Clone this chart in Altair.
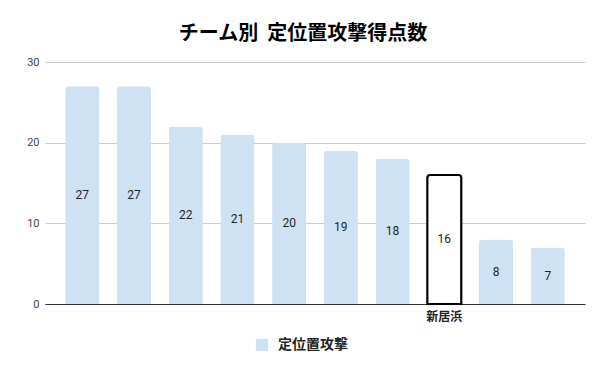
import altair as alt
import pandas as pd

teams = ["T1", "T2", "T3", "T4", "T5", "T6", "T7", "新居浜", "T9", "T10"]
values = [27, 27, 22, 21, 20, 19, 18, 16, 8, 7]
series_name = "定位置攻撃"
highlight = "新居浜"

df = pd.DataFrame({"team": teams, "value": values, "series": [series_name] * len(teams)})

FONT = "Roboto"
JP = "Noto Sans CJK JP"

x_enc = alt.X(
    "team:N",
    sort=teams,
    title=None,
    scale=alt.Scale(paddingInner=0.34, paddingOuter=0.39),
    axis=alt.Axis(
        labelExpr=f"datum.value == '{highlight}' ? datum.value : ''",
        labelAngle=0,
        labelFont=JP,
        labelFontWeight="bold",
        labelFontSize=12,
        labelColor="#222222",
        labelPadding=7,
        ticks=False,
        domainColor="#333333",
        domainWidth=1,
        grid=False,
    ),
)

y_enc = alt.Y(
    "value:Q",
    title=None,
    scale=alt.Scale(domain=[0, 30]),
    axis=alt.Axis(
        values=[0, 10, 20, 30],
        labelFont=FONT,
        labelFontSize=11,
        labelColor="#444444",
        labelPadding=6,
        ticks=False,
        domain=False,
        gridColor="#cccccc",
        gridWidth=1,
    ),
)

bars = alt.Chart(df).mark_bar(cornerRadiusTopLeft=3, cornerRadiusTopRight=3).encode(
    x=x_enc,
    y=y_enc,
    fill=alt.condition(
        alt.datum.team == highlight,
        alt.value("white"),
        alt.Fill(
            "series:N",
            scale=alt.Scale(domain=[series_name], range=["#cfe2f3"]),
            legend=alt.Legend(
                title=None,
                orient="none",
                legendX=210,
                legendY=276,
                symbolType="square",
                symbolSize=150,
                symbolStrokeWidth=0,
                labelFont=JP,
                labelFontWeight="bold",
                labelFontSize=14,
                labelColor="#222222",
                labelOffset=9,
            ),
        ),
    ),
    stroke=alt.condition(alt.datum.team == highlight, alt.value("black"), alt.value(None)),
    strokeWidth=alt.condition(alt.datum.team == highlight, alt.value(2), alt.value(0)),
)

labels = alt.Chart(df).transform_calculate(mid="datum.value / 2").mark_text(
    font=FONT, fontSize=12, color="#222222", baseline="middle"
).encode(
    x=alt.X("team:N", sort=teams),
    y=alt.Y("mid:Q"),
    text="value:Q",
)

chart = (
    alt.layer(bars, labels)
    .properties(
        width=540,
        height=242,
        autosize=alt.AutoSizeParams(type="none"),
        padding={"left": 37, "top": 54, "right": 7, "bottom": 67},
        title=alt.Title(
            "チーム別\u00a0\u00a0定位置攻撃得点数",
            font=JP,
            fontSize=20,
            fontWeight="bold",
            color="#000000",
            anchor="middle",
            dx=-12,
            offset=12,
        ),
    )
    .configure_view(stroke=None)
)

chart.save("out.html", embed_options={"renderer": "svg", "actions": False})
